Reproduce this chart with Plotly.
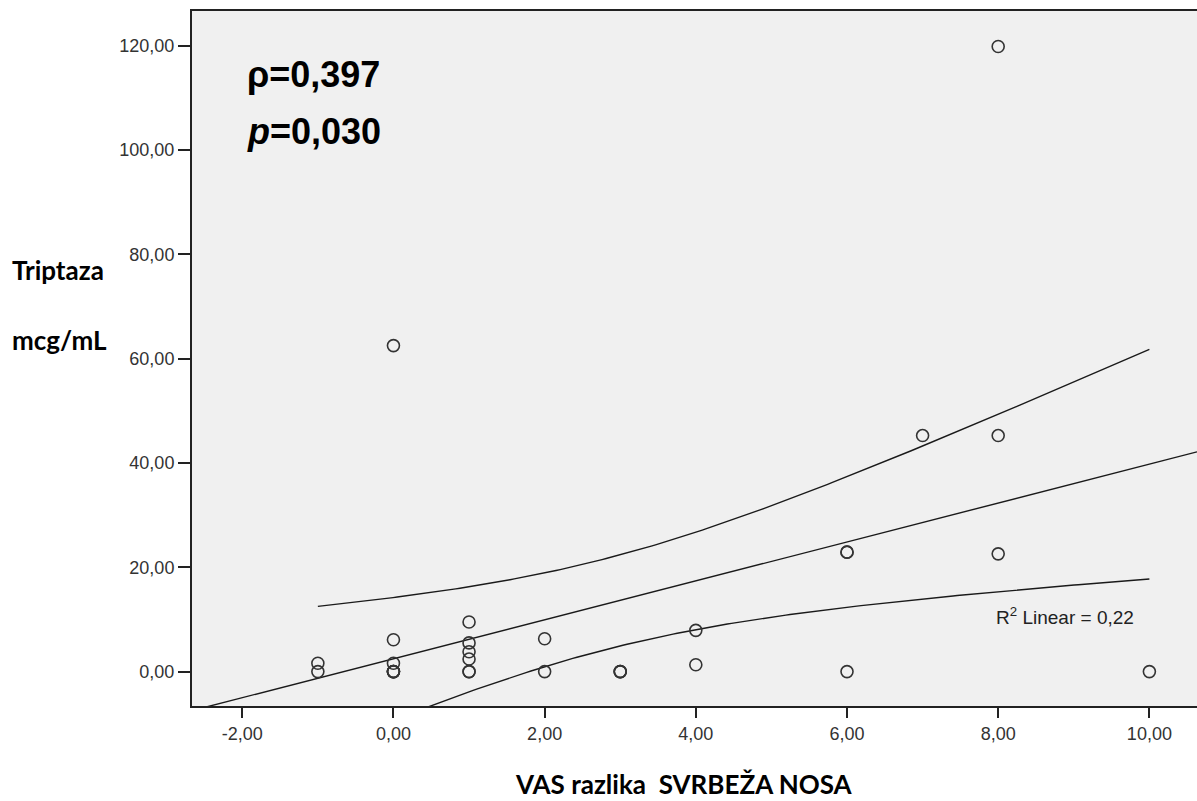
import numpy as np
import plotly.graph_objects as go

# ---- data ----
x_vals = [-1, -1,
          0, 0, 0, 0, 0, 0, 0,
          1, 1, 1, 1, 1, 1,
          2, 2,
          3, 3, 3,
          4, 4,
          6, 6, 6,
          7,
          8, 8, 8,
          10]
y_vals = [1.6, 0.0,
          62.5, 6.1, 1.6, 0.0, 0.0, 0.0, 0.0,
          9.5, 5.5, 3.8, 2.4, 0.0, 0.0,
          6.3, 0.0,
          0.0, 0.0, 0.0,
          7.9, 1.3,
          22.9, 22.9, 0.0,
          45.25,
          119.85, 45.25, 22.57,
          0.0]

x_ticks = [-2, 0, 2, 4, 6, 8, 10]
x_tick_labels = ["-2,00", "0,00", "2,00", "4,00", "6,00", "8,00", "10,00"]
y_ticks = [0, 20, 40, 60, 80, 100, 120]
y_tick_labels = ["0,00", "20,00", "40,00", "60,00", "80,00", "100,00", "120,00"]

X_RANGE = [-2.665, 10.63]
Y_RANGE = [-6.6, 126.65]
T_CRIT = 2.0484  # t(0.975, df=28)

x_title = "VAS razlika  SVRBEŽA NOSA"
y_title_lines = ["Triptaza", "mcg/mL"]
rho_text = "<b>ρ=0,397</b>"
p_text = "<b><i>p</i>=0,030</b>"
r2_text = "R<sup>2</sup> Linear = 0,22"

# ---- regression and 95% CI of the mean ----
x = np.array(x_vals, dtype=float)
y = np.array(y_vals, dtype=float)
n = len(x)
slope, intercept = np.polyfit(x, y, 1)
resid = y - (slope * x + intercept)
s = np.sqrt(np.sum(resid ** 2) / (n - 2))
xm = x.mean()
sxx = np.sum((x - xm) ** 2)

xf = np.linspace(X_RANGE[0], X_RANGE[1], 200)
yf = slope * xf + intercept
xc = np.linspace(x.min(), x.max(), 200)
yc = slope * xc + intercept
half = T_CRIT * s * np.sqrt(1.0 / n + (xc - xm) ** 2 / sxx)

LINE = dict(color="#1a1a1a", width=1.4)

fig = go.Figure()
fig.add_trace(go.Scatter(x=xf, y=yf, mode="lines", line=LINE, hoverinfo="skip"))
fig.add_trace(go.Scatter(x=xc, y=yc + half, mode="lines", line=LINE, hoverinfo="skip"))
fig.add_trace(go.Scatter(x=xc, y=yc - half, mode="lines", line=LINE, hoverinfo="skip"))
fig.add_trace(go.Scatter(
    x=x_vals, y=y_vals, mode="markers",
    marker=dict(symbol="circle-open", size=12, color="#333333", line=dict(width=1.6)),
))

tick_font = dict(family="Liberation Sans, Arial, sans-serif", size=18, color="#333333")

fig.update_layout(
    width=1197, height=801,
    margin=dict(l=192, r=0, t=11, b=95, pad=0),
    paper_bgcolor="white",
    plot_bgcolor="#f0f0f0",
    showlegend=False,
    xaxis=dict(
        range=X_RANGE, tickvals=x_ticks, ticktext=x_tick_labels,
        showgrid=False, zeroline=False,
        showline=True, mirror=True, linecolor="#222222", linewidth=2,
        ticks="outside", ticklen=10, tickwidth=2, tickcolor="#222222",
        tickfont=tick_font,
    ),
    yaxis=dict(
        range=Y_RANGE, tickvals=y_ticks, ticktext=y_tick_labels,
        showgrid=False, zeroline=False,
        showline=True, mirror=False, linecolor="#222222", linewidth=2,
        ticks="outside", ticklen=12, tickwidth=2, tickcolor="#222222",
        tickfont=tick_font,
    ),
)

label_font = dict(family="Lato, Open Sans, sans-serif", size=26, color="black")
big_font = dict(family="Liberation Sans, Arial, sans-serif", size=36, color="black")

annotations = [
    dict(text=rho_text, x=0.0527, y=0.908, xref="paper", yref="paper",
         xanchor="left", yanchor="middle", showarrow=False, font=big_font),
    dict(text=p_text, x=0.0527, y=0.826, xref="paper", yref="paper",
         xanchor="left", yanchor="middle", showarrow=False, font=big_font),
    dict(text=r2_text, x=0.798, y=0.1295, xref="paper", yref="paper",
         xanchor="left", yanchor="middle", showarrow=False,
         font=dict(family="Liberation Sans, Arial, sans-serif", size=19, color="#222222")),
    dict(text="<b>" + x_title + "</b>", x=0.4896, y=-0.112, xref="paper", yref="paper",
         xanchor="center", yanchor="middle", showarrow=False, font=label_font),
    dict(text="<b>" + y_title_lines[0] + "</b>", x=-0.181, y=0.627, xref="paper", yref="paper",
         xanchor="left", yanchor="middle", showarrow=False, font=label_font),
    dict(text="<b>" + y_title_lines[1] + "</b>", x=-0.181, y=0.527, xref="paper", yref="paper",
         xanchor="left", yanchor="middle", showarrow=False, font=label_font),
]
fig.update_layout(annotations=annotations)

fig.write_html("out.html", config={"displayModeBar": False},
               post_script="document.body.style.margin='0';document.body.style.overflow='hidden';")
